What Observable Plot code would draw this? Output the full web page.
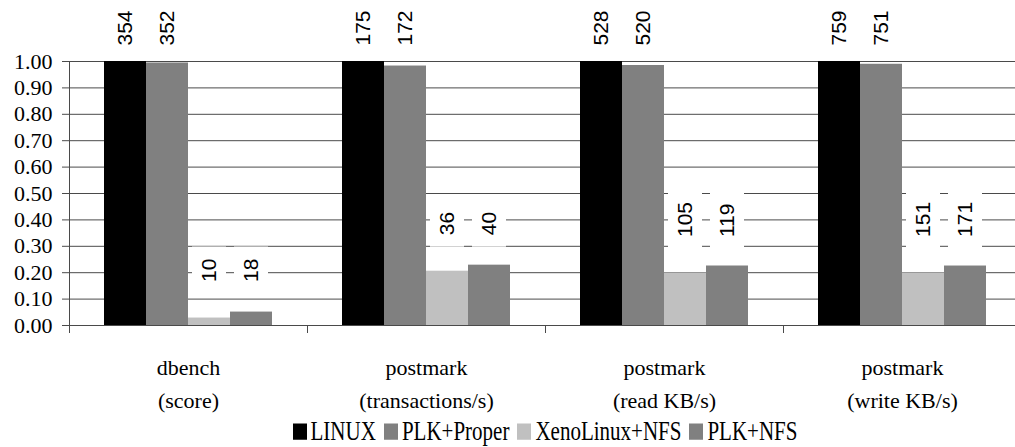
<!DOCTYPE html>
<html>
<head>
<meta charset="utf-8">
<script src="https://cdn.jsdelivr.net/npm/d3@7"></script>
<script src="https://cdn.jsdelivr.net/npm/@observablehq/plot@0.6"></script>
<style>
  html, body { margin: 0; padding: 0; background: #fff; }
  #legend {
    width: 952px; margin-left: 69px; height: 32px;
    display: flex; justify-content: center; align-items: center;
    font-family: "Liberation Serif", "Times New Roman", serif; font-size: 21px; color: #000;
    transform: scaleY(1.25); transform-origin: 50% 50%;
  }
  #legend .item { display: flex; align-items: center; margin: 0 4px; }
  #legend .sw { width: 14px; height: 13px; margin-right: 4px; }
</style>
</head>
<body>
<div id="chart"></div>
<div id="legend"></div>
<script>
// ---- data ----
const groups = ["dbench\n(score)", "postmark\n(transactions/s)", "postmark\n(read KB/s)", "postmark\n(write KB/s)"];
const series = ["LINUX", "PLK+Proper", "XenoLinux+NFS", "PLK+NFS"];
const colors = ["#000000", "#808080", "#c0c0c0", "#808080"];
const linux     = [354, 175, 528, 759];
const plkProper = [352, 172, 520, 751];
const xenoNfs   = [10, 36, 105, 151];
const plkNfs    = [18, 40, 119, 171];
const yTicks = [0, 0.1, 0.2, 0.3, 0.4, 0.5, 0.6, 0.7, 0.8, 0.9, 1.0];

const SERIF = "'Liberation Serif', 'Times New Roman', serif";
const SANS = "'Liberation Sans', Arial, sans-serif";

// ---- table built from the arrays ----
const valuesBySeries = [linux, plkProper, xenoNfs, plkNfs];
const rows = [];
groups.forEach((g, gi) => {
  series.forEach((s, si) => {
    const raw = valuesBySeries[si][gi];
    const ratio = raw / linux[gi];
    // labels of each pair are aligned to the first bar of the pair
    const pairLead = si < 2 ? linux[gi] / linux[gi] : xenoNfs[gi] / linux[gi];
    rows.push({group: g, series: s, raw, ratio, anchor: pairLead, top: si < 2, digits: String(raw).length});
  });
});
const low = rows.filter(d => !d.top);

const labelStyle = {
  fx: "group", x: "series", y: "anchor", text: d => String(d.raw),
  rotate: -90, textAnchor: "start", lineAnchor: "middle",
  fontSize: 21, fontFamily: SANS, fill: "#000"
};
const boxStyle = {fx: "group", x: "series", y1: "anchor", y2: "anchor", fill: "#fff", insetLeft: 4, insetRight: 4, insetBottom: 24};

const chart = Plot.plot({
  width: 1015,
  height: 415,
  marginLeft: 69,
  marginRight: -6,
  marginTop: 61,
  marginBottom: 90,
  style: {background: "#fff", color: "#000", overflow: "visible"},
  fx: {domain: groups, padding: 0},
  x: {domain: series, paddingInner: 0, paddingOuter: 0.77, axis: null},
  y: {domain: [0, 1]},
  color: {domain: series, range: colors},
  marks: [
    Plot.gridY(yTicks, {stroke: "#4a4a4a", strokeOpacity: 1}),
    Plot.barY(rows, {fx: "group", x: "series", y: "ratio", fill: "series"}),
    Plot.ruleY([0], {stroke: "#4a4a4a"}),
    Plot.frame({anchor: "left", facetAnchor: "left", stroke: "#4a4a4a"}),
    Plot.axisY(yTicks, {
      tickFormat: d3.format(".2f"), tickSize: 7, tickPadding: 10,
      fontSize: 22, fontFamily: SERIF, label: null, stroke: "#4a4a4a"
    }),
    Plot.axisFx({anchor: "bottom", tickSize: 8, dx: -119, tickFormat: () => "", label: null, stroke: "#4a4a4a"}),
    Plot.text(groups, {
      fx: d => d, text: d => d, frameAnchor: "bottom", lineAnchor: "top",
      dy: 27, lineHeight: 1.47, fontSize: 22, fontFamily: SERIF, fill: "#000"
    }),
    Plot.text(rows.filter(d => d.top), {...labelStyle, dy: -16}),
    // white label boxes behind the small-bar labels (cut the gridlines as in the reference)
    Plot.barY(low.filter(d => d.digits === 2), {...boxStyle, insetTop: -71}),
    Plot.barY(low.filter(d => d.digits === 3), {...boxStyle, insetTop: -83}),
    Plot.text(low, {...labelStyle, dy: -36})
  ]
});
document.getElementById("chart").appendChild(chart);

// ---- legend ----
const legend = document.getElementById("legend");
series.forEach((s, i) => {
  const item = document.createElement("span");
  item.className = "item";
  const sw = document.createElement("span");
  sw.className = "sw";
  sw.style.background = colors[i];
  const t = document.createElement("span");
  t.textContent = s;
  item.appendChild(sw);
  item.appendChild(t);
  legend.appendChild(item);
});
</script>
</body>
</html>
